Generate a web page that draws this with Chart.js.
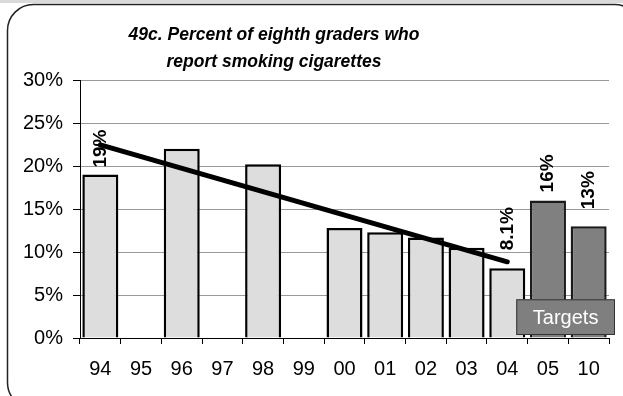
<!DOCTYPE html>
<html>
<head>
<meta charset="utf-8">
<script src="https://cdn.jsdelivr.net/npm/chart.js@4/dist/chart.umd.min.js"></script>
<style>
  html, body { margin: 0; padding: 0; background: #fff; }
  #wrap { width: 623px; height: 396px; }
</style>
</head>
<body>
<div id="wrap"><canvas id="c" width="623" height="396"></canvas></div>
<script>
// data
var years = ["94", "95", "96", "97", "98", "99", "00", "01", "02", "03", "04", "05", "10"];
var actual = [19, null, 22, null, 20.2, null, 12.8, 12.3, 11.7, 10.5, 8.1, null, null];
var targets = [null, null, null, null, null, null, null, null, null, null, null, 16, 13];
var trend = [22.45, null, null, null, null, null, null, null, null, null, 8.86, null, null];
var barLabels = ["19%", "", "", "", "", "", "", "", "", "", "8.1%", "16%", "13%"];
var yTicks = [0, 5, 10, 15, 20, 25, 30];

var titleLines = ["49c. Percent of eighth graders who", "report smoking cigarettes"];
var FONT = "'Liberation Sans', Arial, sans-serif";

// frame, background and title
var framePlugin = {
  id: "frame",
  beforeDraw: function(chart) {
    var ctx = chart.ctx;
    ctx.save();
    ctx.fillStyle = "#fff";
    ctx.fillRect(0, 0, chart.width, chart.height);
    ctx.fillStyle = "#dadada";
    ctx.fillRect(0, 0, chart.width, 3);
    ctx.beginPath();
    ctx.roundRect(7.5, 4.5, chart.width + 10, chart.height + 8, 26);
    ctx.lineWidth = 1.5;
    ctx.strokeStyle = "#222";
    ctx.stroke();
    ctx.fillStyle = "#000";
    ctx.font = "italic bold 17.5px " + FONT;
    ctx.textAlign = "center";
    ctx.textBaseline = "middle";
    ctx.fillText(titleLines[0], 274, 35);
    ctx.fillText(titleLines[1], 274, 62);
    ctx.restore();
  }
};

// rotated value labels and the "Targets" box
var labelGap = [7, 0, 0, 0, 0, 0, 0, 0, 0, 0, 18, 8, 17];
var labelPlugin = {
  id: "barlabels",
  afterDatasetsDraw: function(chart) {
    var ctx = chart.ctx;
    var x = chart.scales.x, y = chart.scales.y;

    // Targets box
    var left = x.getPixelForValue(10) + 9;
    var right = chart.chartArea.right + 6;
    var top = y.getPixelForValue(4.5);
    var bottom = y.getPixelForValue(0.35);
    ctx.save();
    ctx.fillStyle = "#7f7f7f";
    ctx.fillRect(left, top, right - left, bottom - top);
    ctx.strokeStyle = "#333";
    ctx.lineWidth = 1;
    ctx.strokeRect(left + 0.5, top + 0.5, right - left - 1, bottom - top - 1);
    ctx.fillStyle = "#fff";
    ctx.font = "20px " + FONT;
    ctx.textAlign = "center";
    ctx.textBaseline = "middle";
    ctx.fillText("Targets", (left + right) / 2, (top + bottom) / 2 + 1);
    ctx.restore();

    // vertical labels
    ctx.save();
    ctx.fillStyle = "#000";
    ctx.font = "bold 19px " + FONT;
    ctx.textAlign = "left";
    ctx.textBaseline = "middle";
    for (var i = 0; i < barLabels.length; i++) {
      if (!barLabels[i]) continue;
      var v = actual[i] != null ? actual[i] : targets[i];
      var meta = chart.getDatasetMeta(actual[i] != null ? 1 : 2);
      var bx = meta.data[i].x;
      var by = y.getPixelForValue(v) - labelGap[i];
      ctx.save();
      ctx.translate(bx, by);
      ctx.rotate(-Math.PI / 2);
      ctx.fillText(barLabels[i], 0, 0);
      ctx.restore();
    }
    ctx.restore();
  }
};

new Chart(document.getElementById("c"), {
  type: "bar",
  data: {
    labels: years,
    datasets: [
      {
        type: "line",
        label: "Trend",
        data: trend,
        borderColor: "#000",
        borderWidth: 5,
        borderCapStyle: "round",
        pointRadius: 0,
        spanGaps: true,
        order: 0
      },
      {
        label: "Actual",
        data: actual,
        backgroundColor: "#dddddd",
        borderColor: "#000",
        borderWidth: 2.5,
        grouped: false,
        order: 1
      },
      {
        label: "Targets",
        data: targets,
        backgroundColor: "#808080",
        borderColor: "#1a1a1a",
        borderWidth: 2.5,
        grouped: false,
        order: 1
      }
    ]
  },
  options: {
    responsive: false,
    animation: false,
    layout: { padding: { left: 0, right: 14, top: 80, bottom: 0 } },
    datasets: { bar: { categoryPercentage: 1, barPercentage: 0.885 } },
    plugins: {
      legend: { display: false },
      title: { display: false },
      tooltip: { enabled: false }
    },
    scales: {
      x: {
        grid: { drawOnChartArea: false, drawTicks: true, tickLength: 6, tickColor: "#000" },
        border: { color: "#000", width: 1 },
        ticks: { color: "#000", font: { family: FONT, size: 20 }, padding: 13, maxRotation: 0 },
        afterFit: function(s) { s.height = 58; }
      },
      y: {
        min: 0,
        max: 30,
        afterBuildTicks: function(s) { s.ticks = yTicks.map(function(v) { return { value: v }; }); },
        grid: { color: "#999", tickColor: "#000", tickLength: 7 },
        border: { color: "#000", width: 1 },
        ticks: {
          color: "#000",
          font: { family: FONT, size: 20 },
          padding: 10,
          callback: function(v) { return v + "%"; }
        },
        afterFit: function(s) { s.width = 80; }
      }
    }
  },
  plugins: [framePlugin, labelPlugin]
});
</script>
</body>
</html>
